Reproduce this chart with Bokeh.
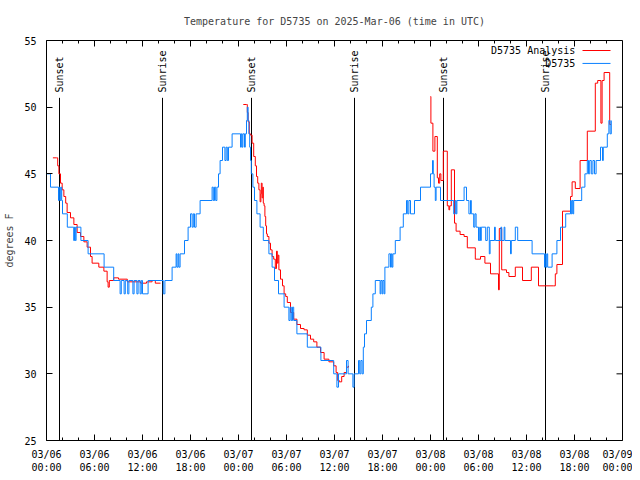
import math
from bokeh.plotting import figure
from bokeh.models import Range1d, FixedTicker, ColumnDataSource
from bokeh.embed import file_html
from bokeh.resources import INLINE
from bokeh.core.properties import value

FONT = "DejaVu Sans Mono"
RED = "#ff0000"
BLUE = "#0a80ff"

TITLE = "Temperature for D5735 on 2025-Mar-06 (time in UTC)"
Y_LABEL = "degrees F"
SERIES_NAMES = ["D5735 Analysis", "D5735"]

X_MIN, X_MAX = 0, 72
Y_MIN, Y_MAX = 25, 55

# hours since 03/06 00:00 UTC
x_tick_hours = [0, 6, 12, 18, 24, 30, 36, 42, 48, 54, 60, 66, 72]
x_tick_labels = ["03/06\n00:00", "03/06\n06:00", "03/06\n12:00", "03/06\n18:00",
                 "03/07\n00:00", "03/07\n06:00", "03/07\n12:00", "03/07\n18:00",
                 "03/08\n00:00", "03/08\n06:00", "03/08\n12:00", "03/08\n18:00",
                 "03/09\n00:00"]
x_minor_hours = [h for h in range(0, 73, 2) if h % 6 != 0]
y_ticks = [25, 30, 35, 40, 45, 50, 55]

event_hours = [1.625, 14.5, 25.625, 38.5, 49.625, 62.375]
event_labels = ["Sunset", "Sunrise", "Sunset", "Sunrise", "Sunset", "Sunrise"]

# observations (D5735), step values
blue_hours = [0.0, 0.5, 1.5, 1.6, 1.7, 1.8, 1.9, 2.0, 2.6, 3.4, 3.5, 3.6, 3.7, 4.3, 5.2, 7.2, 8.4,
              9.2, 9.35, 9.7, 9.85, 10.15, 10.3, 10.8, 10.95, 11.3, 11.45, 11.7, 11.85, 12.0, 12.7,
              14.6, 14.8, 15.7, 16.2, 16.3, 16.45, 16.55, 16.7, 17.25, 17.7, 18.0, 18.2, 18.35, 18.5,
              18.7, 19.2, 20.7, 20.85, 21.0, 21.15, 21.3, 21.5, 21.7, 22.0, 22.3, 22.45, 22.6, 22.75,
              23.2, 24.25, 24.35, 24.45, 24.55, 24.75, 24.85, 25.0, 25.1, 25.2, 25.3, 25.4, 25.5,
              25.6, 25.8, 26.0, 26.3, 26.7, 27.1, 27.8, 28.2, 28.5, 29.0, 29.7, 30.3, 30.45, 30.6,
              30.75, 30.9, 31.3, 32.6, 34.3, 35.9, 36.3, 36.5, 37.5, 37.7, 38.3, 38.45, 39.0, 39.15,
              39.3, 39.45, 39.6, 39.75, 40.0, 40.6, 40.8, 41.1, 41.7, 41.8, 41.95, 42.05, 42.2, 42.3,
              42.8, 43.0, 43.1, 43.2, 43.3, 43.6, 44.2, 44.6, 45.0, 45.15, 45.3, 45.5, 46.0, 46.75,
              48.0, 48.25, 48.35, 48.45, 48.6, 48.7, 49.25, 50.9, 51.1, 51.2, 51.3, 52.2, 52.5, 52.8,
              53.0, 53.1, 53.4, 53.55, 53.7, 54.0, 54.15, 54.25, 54.35, 54.9, 55.1, 55.35, 55.45,
              56.0, 56.1, 56.8, 56.9, 57.2, 57.3, 58.0, 58.1, 58.6, 58.9, 60.7, 62.25, 62.35, 62.45,
              62.55, 62.65, 63.2, 63.8, 64.25, 64.9, 65.5, 65.6, 65.7, 65.8, 65.9, 66.9, 67.3, 67.6,
              67.75, 67.9, 68.1, 68.3, 68.5, 68.7, 69.25, 69.5, 69.6, 70.1, 70.3, 70.45, 70.6]
blue_temps = [45, 44, 43, 44, 43, 44, 43, 42, 41, 40, 41, 40, 41, 40, 39, 38, 37,
              36, 37, 36, 37, 36, 37, 36, 37, 36, 37, 36, 37, 36, 37,
              36, 37, 38, 39, 38, 39, 38, 39, 40, 41, 42, 41, 42, 41,
              42, 43, 44, 43, 44, 43, 44, 45, 46, 47, 46, 47, 46, 47,
              48, 47, 48, 47, 48, 47, 48, 49, 50, 49, 48, 47, 46,
              45, 44, 43, 42, 41, 40, 39, 38, 37, 36, 35, 34, 35, 34,
              35, 34, 33, 32, 31, 30, 29, 30, 31, 30, 29, 30, 31, 30,
              31, 30, 32, 33, 34, 35, 36, 37, 36, 37, 36, 37, 36, 38,
              39, 38, 39, 38, 39, 40, 41, 42, 43, 42, 43, 42, 43, 44,
              45, 46, 45, 44, 43, 44, 43, 42, 43, 42, 43, 44, 43, 42,
              43, 42, 41, 42, 41, 40, 41, 40, 41, 40, 41, 39, 40,
              41, 40, 41, 40, 41, 40, 39, 40, 41, 40, 39, 38, 39, 38,
              39, 38, 39, 40, 41, 42, 43, 42, 43, 42, 43, 44, 45, 46,
              45, 46, 45, 46, 45, 46, 47, 46, 47, 48, 49, 48, 49]

# analysis (D5735 Analysis), three segments
red1_hours = [0.8, 1.25, 1.4, 1.55, 1.75, 1.96, 2.17, 2.4, 2.58, 3.0, 3.42, 3.83, 4.25, 4.67, 5.08,
              5.5, 5.7, 6.54, 7.17, 7.58, 7.7, 7.85, 8.4, 9.0, 10.1, 11.75, 12.5, 13.2, 13.6, 14.25]
red1_temps = [46.2, 46.2, 45.6, 45.0, 44.3, 43.8, 43.3, 42.8, 42.1, 41.7, 41.2, 40.6, 40.3, 39.9, 39.5,
              38.8, 38.3, 38.0, 37.7, 36.9, 36.5, 37.0, 37.2, 37.1, 36.9, 36.8, 36.9, 37.0, 36.8, 36.8]
red2_hours = [24.6, 25.0, 25.1, 25.2, 25.35, 25.5, 25.7, 25.9, 26.1, 26.25, 26.4, 26.55, 26.7, 26.8,
              26.85, 26.95, 27.05, 27.1, 27.2, 27.3, 27.4, 27.5, 27.6, 27.8, 28.0, 28.2, 28.4, 28.6,
              28.75, 28.85, 28.95, 29.05, 29.25, 29.5, 29.7, 29.9, 30.1, 30.5, 30.9, 31.3, 31.75,
              32.2, 32.6, 33.0, 33.4, 33.8, 34.25, 34.7, 35.3, 35.9, 36.2, 36.4, 36.6, 36.9, 37.2,
              37.5, 37.75]
red2_temps = [50.2, 50.2, 49.6, 48.9, 48.0, 47.9, 47.3, 46.3, 45.6, 44.8, 44.3, 43.8, 42.9, 43.5,
              44.3, 43.2, 44.0, 42.8, 42.6, 41.8, 41.1, 40.5, 40.3, 39.8, 39.3, 38.8, 38.6, 37.9,
              39.2, 38.3, 38.9, 37.8, 37.1, 36.6, 36.0, 35.8, 35.35, 34.6, 34.1, 33.7, 33.4,
              33.3, 32.9, 32.6, 32.4, 32.0, 31.6, 31.1, 30.9, 30.6, 30.1, 29.5, 29.4, 29.8, 30.1,
              30.5, 30.6]
red3_hours = [48.0, 48.05, 48.3, 48.55, 48.85, 49.0, 49.15, 49.3, 49.6, 50.1, 50.3, 50.4, 50.6, 51.0,
              51.2, 51.7, 52.2, 52.6, 53.6, 54.25, 54.8, 55.5, 56.3, 56.5, 56.6, 56.9, 57.1, 57.5,
              57.8, 58.6, 59.5, 60.6, 61.5, 63.4, 63.6, 63.8, 64.5, 65.5, 65.7, 66.1, 66.7, 67.6,
              68.6, 68.9, 69.3, 69.45, 69.7, 70.4, 70.55]
red3_temps = [50.8, 48.8, 46.7, 47.8, 44.7, 44.3, 45.0, 44.5, 46.7, 42.6, 42.3, 42.6, 45.3, 41.3,
              40.7, 40.45, 40.3, 39.45, 38.6, 38.8, 38.3, 37.5, 37.5, 36.3, 40.9, 37.8, 37.8, 37.6,
              37.3, 38.0, 37.0, 38.0, 36.6, 36.6, 37.5, 38.2, 42.2, 43.3, 44.4, 43.9, 46.0, 48.2,
              51.8, 52.0, 48.8, 52.0, 52.6, 48.7, 48.7]

p = figure(width=632, height=478, output_backend="svg", toolbar_location=None,
           x_range=Range1d(X_MIN, X_MAX), y_range=Range1d(Y_MIN, Y_MAX),
           min_border_left=46, min_border_right=10, min_border_top=40, min_border_bottom=38,
           title=TITLE)
p.grid.visible = False
p.outline_line_color = "black"
p.outline_line_width = 1
p.background_fill_color = "white"
p.border_fill_color = "white"

p.title.text_font = FONT
p.title.text_font_size = "10px"
p.title.text_font_style = "normal"
p.title.align = "center"
p.title.standoff = 27


def style_axis(ax, ticks, minor):
    ax.ticker = FixedTicker(ticks=ticks, minor_ticks=minor)
    ax.major_tick_in = 6
    ax.major_tick_out = 0
    ax.minor_tick_in = 3
    ax.minor_tick_out = 0
    ax.axis_line_color = None
    ax.major_tick_line_color = "black"
    ax.minor_tick_line_color = "black"
    ax.major_label_text_font = FONT
    ax.major_label_text_color = "black"
    ax.major_label_text_font_size = "10px"


xa = p.xaxis[0]
style_axis(xa, x_tick_hours, x_minor_hours)
xa.major_label_overrides = {h: lab for h, lab in zip(x_tick_hours, x_tick_labels)}
xa.major_label_standoff = 8
xa.major_label_text_line_height = 1.25

ya = p.yaxis[0]
style_axis(ya, y_ticks, [])
ya.major_label_standoff = 10
ya.axis_label = Y_LABEL
ya.axis_label_text_font = FONT
ya.axis_label_text_font_size = "10px"
ya.axis_label_text_font_style = "normal"
ya.axis_label_standoff = 6

# mirrored inward ticks on the top and right edges (gnuplot style)
p.ray(x=x_tick_hours, y=[Y_MAX] * len(x_tick_hours), length=6, length_units="screen",
      angle=-math.pi / 2, line_color="black", line_width=1)
p.ray(x=x_minor_hours, y=[Y_MAX] * len(x_minor_hours), length=3, length_units="screen",
      angle=-math.pi / 2, line_color="black", line_width=1)
p.ray(x=[X_MAX] * len(y_ticks), y=y_ticks, length=6, length_units="screen",
      angle=math.pi, line_color="black", line_width=1)

# sunrise / sunset markers
ev_src = ColumnDataSource(dict(x=event_hours, label=event_labels,
                               y0=[Y_MIN] * len(event_hours), y1=[50.7] * len(event_hours),
                               yt=[51.1] * len(event_hours)))
p.segment(x0="x", y0="y0", x1="x", y1="y1", source=ev_src, line_color="black", line_width=1)
p.text(x="x", y="yt", text="label", source=ev_src, angle=math.pi / 2,
       text_align="left", text_baseline="middle", text_font=value(FONT),
       text_font_size="10px", text_color="black")

# series
for hh, tt in [(red1_hours, red1_temps), (red2_hours, red2_temps), (red3_hours, red3_temps)]:
    p.step(hh, tt, mode="after", line_color=RED, line_width=1)
p.step(blue_hours, blue_temps, mode="after", line_color=BLUE, line_width=1)

# legend (gnuplot style: text then sample)
leg_src = ColumnDataSource(dict(x=[66.1, 66.1], y=[54.25, 53.28], name=SERIES_NAMES,
                                x0=[67.0, 67.0], x1=[70.5, 70.5], c=[RED, BLUE]))
p.text(x="x", y="y", text="name", source=leg_src, text_align="right", text_baseline="middle",
       text_font=value(FONT), text_font_size="10px", text_color="black")
p.segment(x0="x0", y0="y", x1="x1", y1="y", source=leg_src, line_color="c", line_width=1)

open("out.html", "w").write(file_html(p, INLINE))
